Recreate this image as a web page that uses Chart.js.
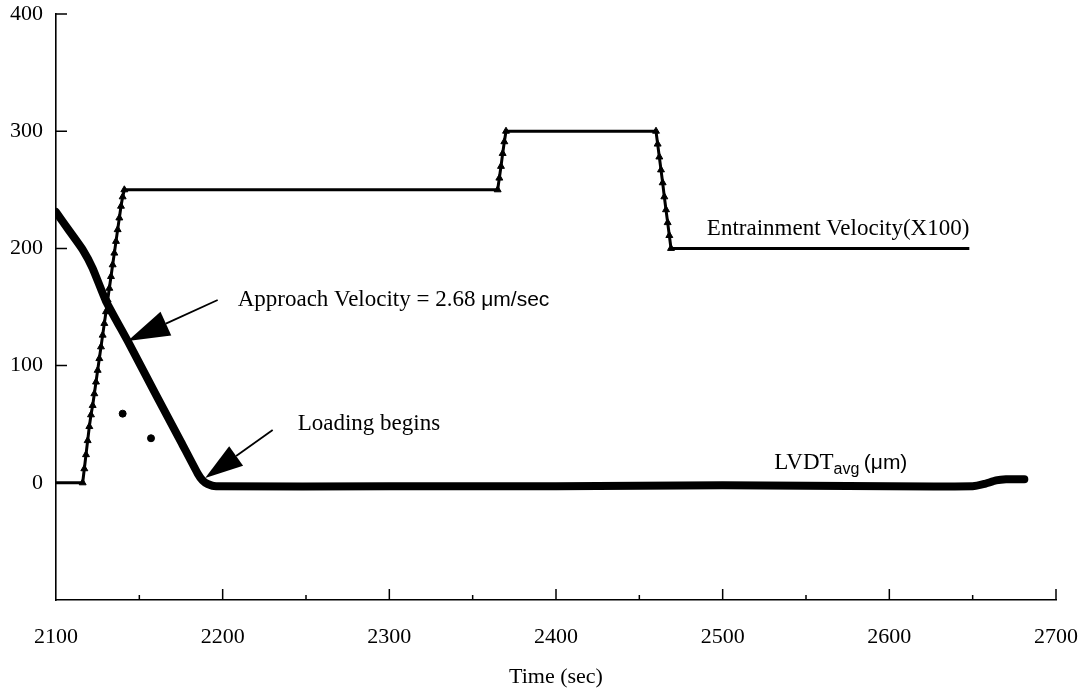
<!DOCTYPE html>
<html>
<head>
<meta charset="utf-8">
<script src="https://cdn.jsdelivr.net/npm/chart.js@4.4.1/dist/chart.umd.min.js"></script>
<style>
    body { margin: 0; background: #fff; }
    canvas { display: block; }
</style>
</head>
<body>
<canvas id="chart1" width="1079" height="694"></canvas>
<script>
// Entrainment velocity (x100) and LVDT avg vs time
const ctx1 = document.getElementById('chart1')

const xMin = 2100
const xMax = 2700
const yMin = -100
const yMax = 400

// entrainment velocity, sampled on the ramps
const velTime = [
    2100, 2116, 2117, 2118, 2119, 2120, 2121, 2122, 2123, 2124, 2125, 2126, 2127, 2128,
    2129, 2130, 2131, 2132, 2133, 2134, 2135, 2136, 2137, 2138, 2139, 2140, 2141,
    2365, 2366, 2367, 2368, 2369, 2370,
    2460, 2461, 2462, 2463, 2464, 2465, 2466, 2467, 2468, 2469, 2648,
]
const velValue = [
    0, 0, 12, 24, 36, 48, 58, 66, 76, 86, 96, 106, 116, 126,
    136, 146, 156, 166, 176, 186, 196, 206, 216, 226, 236, 244, 250,
    250, 260, 270, 281, 291, 300,
    300, 289, 278, 267, 256, 244, 233, 222, 211, 200, 200,
]

// LVDT average (um)
const lvdtTime = [
    2100, 2108, 2116, 2122, 2130, 2143, 2160, 2175, 2185, 2188, 2191, 2196,
    2300, 2400, 2500, 2600, 2650, 2657, 2664, 2670, 2681,
]
const lvdtValue = [
    231, 215, 199, 183, 155, 121, 75, 35, 8, 2, -1, -3,
    -3, -3, -2, -3, -3, -1, 2, 3, 3,
]

// two stray points under the ramp
const dotTime = [2140, 2157]
const dotValue = [59, 38]

const pts = (xs, ys) => xs.map((x, i) => ({ x: x, y: ys[i] }))

const serif = '"Liberation Serif", "Times New Roman", serif'
const sans = '"Liberation Sans", Arial, sans-serif'

function arrow(c, x1, y1, x2, y2, len, half) {
    const a = Math.atan2(y2 - y1, x2 - x1)
    const bx = x2 - len * Math.cos(a)
    const by = y2 - len * Math.sin(a)
    c.beginPath()
    c.moveTo(x1, y1)
    c.lineTo(bx, by)
    c.lineWidth = 1.8
    c.stroke()
    c.beginPath()
    c.moveTo(x2, y2)
    c.lineTo(bx + half * Math.sin(a), by - half * Math.cos(a))
    c.lineTo(bx - half * Math.sin(a), by + half * Math.cos(a))
    c.closePath()
    c.fill()
}

const decor = {
    id: 'decor',
    afterDraw(chart) {
        const c = chart.ctx
        const xs = chart.scales.x
        const ys = chart.scales.y
        const X = (v) => xs.getPixelForValue(v)
        const Y = (v) => ys.getPixelForValue(v)
        const bottom = chart.chartArea.bottom
        const left = chart.chartArea.left
        c.save()
        c.strokeStyle = '#000'
        c.fillStyle = '#000'
        c.lineWidth = 1.5
        // inward ticks
        c.beginPath()
        for (let t = xMin + 50; t <= xMax; t += 50) {
            const len = t % 100 === 0 ? 11 : 5
            c.moveTo(X(t), bottom)
            c.lineTo(X(t), bottom - len)
        }
        for (let v = 0; v <= yMax; v += 100) {
            c.moveTo(left, Y(v))
            c.lineTo(left + 11, Y(v))
        }
        c.stroke()

        // arrows
        arrow(c, X(2197), Y(156), X(2143), Y(121), 42, 13)
        arrow(c, X(2230), Y(45), X(2189.5), Y(4), 38, 12)

        // labels
        c.textBaseline = 'middle'
        c.textAlign = 'left'
        c.font = '23px ' + serif
        let x = X(2209)
        let y = Y(156)
        const part1 = 'Approach Velocity = 2.68 '
        c.fillText(part1, x, y)
        x += c.measureText(part1).width
        c.font = '21px ' + sans
        c.fillText('\u03bcm/sec', x, y)

        c.font = '23px ' + serif
        c.fillText('Loading begins', X(2245), Y(50))
        c.fillText('Entrainment Velocity(X100)', X(2490.5), Y(217))

        x = X(2531)
        y = Y(17)
        c.fillText('LVDT', x, y)
        x += c.measureText('LVDT').width
        c.font = '16px ' + sans
        c.fillText('avg', x, y + 7)
        x += c.measureText('avg ').width
        c.font = '21px ' + sans
        c.fillText('(\u03bcm)', x, y)
        c.restore()
    },
}

const chart1 = new Chart(ctx1, {
    type: 'line',
    data: {
        datasets: [
            {
                label: 'Entrainment Velocity(X100)',
                data: pts(velTime, velValue),
                borderColor: '#000',
                backgroundColor: '#000',
                borderWidth: 3,
                pointStyle: 'triangle',
                pointRadius: (c) => (c.dataIndex === 0 || c.dataIndex === velTime.length - 1 ? 0 : 4),
                pointBorderWidth: 1,
                tension: 0,
            },
            {
                label: 'LVDT avg',
                data: pts(lvdtTime, lvdtValue),
                borderColor: '#000',
                borderWidth: 8,
                borderJoinStyle: 'round',
                borderCapStyle: 'round',
                pointRadius: 0,
                tension: 0.15,
            },
            {
                label: 'points',
                data: pts(dotTime, dotValue),
                showLine: false,
                backgroundColor: '#000',
                borderColor: '#000',
                pointRadius: 3.5,
            },
        ],
    },
    options: {
        responsive: false,
        animation: false,
        layout: {
            padding: { top: 14, right: 23, left: 0, bottom: 0 },
        },
        plugins: {
            legend: { display: false },
            tooltip: { enabled: false },
        },
        scales: {
            x: {
                type: 'linear',
                min: xMin,
                max: xMax,
                grid: { display: false, drawTicks: false },
                border: { display: true, color: '#000', width: 1.6 },
                ticks: {
                    stepSize: 100,
                    padding: 24,
                    color: '#000',
                    font: { family: serif, size: 22 },
                    callback: (v) => v,
                },
                title: {
                    display: true,
                    text: 'Time (sec)',
                    color: '#000',
                    font: { family: serif, size: 22 },
                    padding: { top: 0, bottom: 4 },
                },
                afterFit: (s) => {
                    s.height = 94
                    s.paddingLeft = 0
                    s.paddingRight = 0
                },
            },
            y: {
                min: yMin,
                max: yMax,
                grid: { display: false, drawTicks: false },
                border: { display: true, color: '#000', width: 1.6 },
                ticks: {
                    stepSize: 100,
                    padding: 13,
                    color: '#000',
                    font: { family: serif, size: 22 },
                    callback: (v) => (v < 0 ? '' : v),
                },
                afterFit: (s) => {
                    s.width = 56
                    s.paddingTop = 0
                    s.paddingBottom = 0
                },
            },
        },
    },
    plugins: [decor],
})
</script>
</body>
</html>
